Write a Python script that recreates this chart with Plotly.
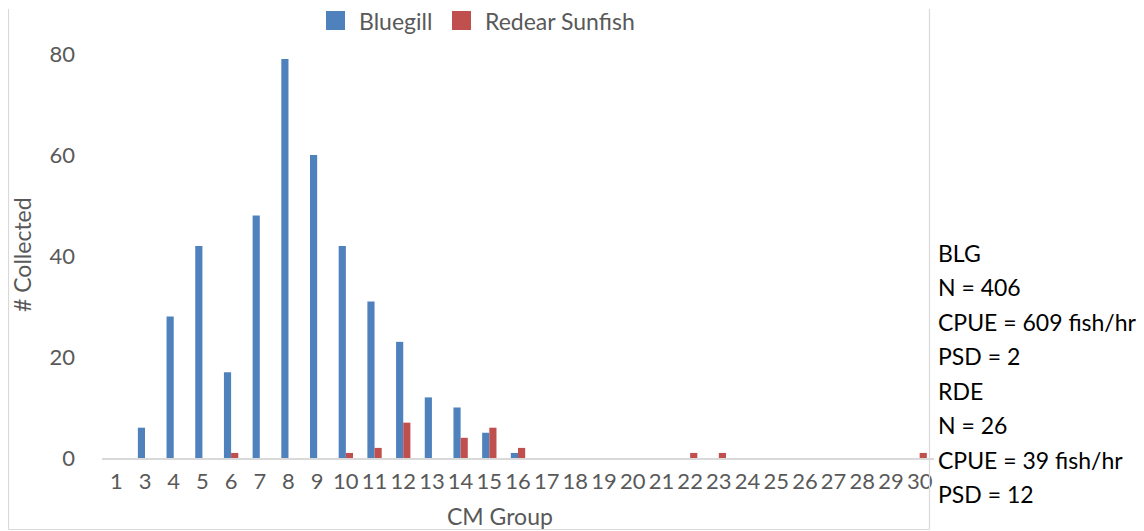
import plotly.graph_objects as go

categories = ["1", "3", "4", "5", "6", "7", "8", "9", "10", "11", "12", "13", "14", "15",
              "16", "17", "18", "19", "20", "21", "22", "23", "24", "25", "26", "27", "28", "29", "30"]
bluegill = [0, 6, 28, 42, 17, 48, 79, 60, 42, 31, 23, 12, 10, 5,
            1, 0, 0, 0, 0, 0, 0, 0, 0, 0, 0, 0, 0, 0, 0]
redear = [0, 0, 0, 0, 1, 0, 0, 0, 1, 2, 7, 0, 4, 6,
          2, 0, 0, 0, 0, 0, 1, 1, 0, 0, 0, 0, 0, 0, 1]
y_ticks = [0, 20, 40, 60, 80]
series_names = ["Bluegill", "Redear Sunfish"]
series_colors = ["#4F81BD", "#C0504D"]
stats_lines = ["BLG", "N = 406", "CPUE = 609 fish/hr", "PSD = 2",
               "RDE", "N = 26", "CPUE = 39 fish/hr", "PSD = 12"]

# the page has an 8px body margin, so the figure is sized to fit the window
W, H = 1136, 523
L, R, T, B = 94, 926, 0, 450  # plot area in figure pixels
Y_MAX = 89.1

FONT = "Lato, 'Open Sans', sans-serif"
GREY = "#595959"
BORDER = "#d9d9d9"

fig = go.Figure()
fig.add_trace(go.Bar(x=categories, y=bluegill, name=series_names[0], marker_color=series_colors[0],
                     marker_line_width=0))
fig.add_trace(go.Bar(x=categories, y=redear, name=series_names[1], marker_color=series_colors[1],
                     marker_line_width=0))


def px_x(p):
    return (p - L) / (R - L)


def px_y(p):
    return (B - p) / (B - T)


annotations = []
for i, line in enumerate(stats_lines):
    annotations.append(dict(text=line, x=px_x(928), y=px_y(245 + i * 34.45), xref="paper", yref="paper",
                            xanchor="left", yanchor="middle", showarrow=False,
                            font=dict(family=FONT, size=23, color="#000000")))
annotations.append(dict(text="# Collected", x=px_x(14), y=px_y(247), xref="paper", yref="paper",
                        textangle=-90, xanchor="center", yanchor="middle", showarrow=False,
                        font=dict(family=FONT, size=23, color=GREY)))
annotations.append(dict(text="CM Group", x=px_x(492), y=px_y(508), xref="paper", yref="paper",
                        xanchor="center", yanchor="middle", showarrow=False,
                        font=dict(family=FONT, size=23, color=GREY)))

shapes = [
    dict(type="line", xref="paper", yref="paper", x0=px_x(0.5), x1=px_x(0.5), y0=px_y(1), y1=px_y(521.5),
         line=dict(color=BORDER, width=1.2)),
    dict(type="line", xref="paper", yref="paper", x0=px_x(921.5), x1=px_x(921.5), y0=px_y(1), y1=px_y(521.5),
         line=dict(color=BORDER, width=1.2)),
    dict(type="line", xref="paper", yref="paper", x0=px_x(0.5), x1=px_x(921.5), y0=px_y(521.5), y1=px_y(521.5),
         line=dict(color=BORDER, width=1.2)),
]

# legend drawn by hand (Excel-style large square keys)
legend_sq_x = [318, 444]
legend_txt_x = [349, 475]
for name, color, sx, tx in zip(series_names, series_colors, legend_sq_x, legend_txt_x):
    shapes.append(dict(type="rect", xref="paper", yref="paper", x0=px_x(sx), x1=px_x(sx + 19),
                       y0=px_y(3), y1=px_y(22), fillcolor=color, line=dict(width=0)))
    annotations.append(dict(text=name, x=px_x(tx), y=px_y(12.5), xref="paper", yref="paper",
                            xanchor="left", yanchor="middle", showarrow=False,
                            font=dict(family=FONT, size=23, color=GREY)))

fig.update_layout(
    width=W, height=H,
    margin=dict(l=L, r=W - R, t=T, b=H - B, pad=0),
    paper_bgcolor="white", plot_bgcolor="white",
    barmode="group", bargap=0.5, bargroupgap=0,
    font=dict(family=FONT, size=22, color=GREY),
    showlegend=False,
    xaxis=dict(type="category", showgrid=False, showline=True, linecolor=BORDER, linewidth=2,
               ticks="", ticklabelstandoff=3, tickfont=dict(family=FONT, size=22, color=GREY),
               zeroline=False, fixedrange=True),
    yaxis=dict(range=[0, Y_MAX], tickvals=y_ticks, showgrid=False, showline=False, zeroline=False,
               ticks="", ticklabelstandoff=26,
               tickfont=dict(family=FONT, size=22, color=GREY), fixedrange=True),
    annotations=annotations,
    shapes=shapes,
)

fig.write_html("out.html")
